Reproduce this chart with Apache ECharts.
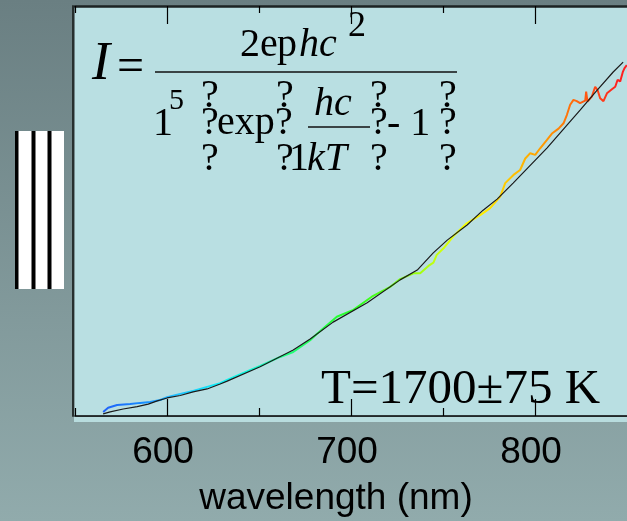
<!DOCTYPE html>
<html>
<head>
<meta charset="utf-8">
<script src="https://cdn.jsdelivr.net/npm/echarts@6/dist/echarts.min.js"></script>
<style>
  html, body { margin: 0; padding: 0; }
  #chart { width: 627px; height: 521px; }
</style>
</head>
<body>
<div id="chart"></div>
<script>
// Tick marks on the wavelength axis (nm)
const majorTicks = [600, 700, 800];
const minorTicks = [550, 650, 750];

// Blackbody fit (arbitrary intensity units)
const fitWavelength = [565.3, 569.1, 576.2, 583.8, 589.8, 594.7, 600.1, 607.2, 614.2, 621.8,
  628.9, 632.7, 650.6, 668.6, 677.8, 690.3, 708.8, 726.7, 736.0, 744.7,
  752.3, 763.1, 771.8, 779.4, 788.1, 806.6, 817.5, 824.5, 833.8, 842.5, 847.9];
const fitIntensity = [0.5, 1.0, 1.7, 2.3, 2.9, 3.7, 4.4, 5.0, 5.9, 6.6,
  7.8, 8.5, 12.0, 16.1, 18.8, 22.9, 27.6, 33.2, 35.6, 39.8,
  42.9, 46.6, 50.2, 52.9, 56.8, 65.4, 71.0, 74.6, 79.5, 83.9, 86.3];

// Measured emission spectrum
const measWavelength = [565.3, 568.0, 572.9, 580.0, 585.4, 590.8, 596.3, 600.1, 607.2, 614.2,
  621.8, 628.9, 632.7, 642.5, 650.6, 661.5, 668.6, 677.8, 681.4, 692.3,
  701.3, 711.3, 721.3, 726.7, 734.0, 737.6, 742.1, 744.8, 746.6, 750.3,
  755.7, 762.9, 770.2, 775.6, 781.1, 783.8, 788.3, 791.9, 794.7, 797.4,
  800.1, 802.8, 806.4, 809.2, 812.8, 815.5, 817.3, 819.1, 820.9, 822.7,
  824.5, 827.3, 827.8, 828.5, 830.9, 832.7, 834.0, 835.4, 837.2, 839.1,
  841.8, 843.6, 844.9, 846.3, 847.8, 848.6, 849.9];
const measIntensity = [1.0, 2.0, 2.7, 2.9, 3.2, 3.4, 3.9, 4.6, 5.4, 6.1,
  7.1, 8.0, 8.8, 10.7, 12.2, 14.4, 15.6, 18.5, 20.0, 24.2,
  25.9, 29.1, 31.5, 33.4, 34.8, 34.8, 36.6, 37.4, 39.3, 40.9,
  43.9, 47.0, 49.0, 50.7, 53.5, 56.8, 58.8, 60.0, 62.8, 64.1,
  63.7, 65.3, 67.3, 68.9, 70.1, 71.4, 73.4, 75.9, 77.1, 76.8,
  76.3, 76.9, 79.1, 76.7, 77.9, 80.3, 79.5, 77.5, 76.8, 78.7,
  79.7, 80.3, 82.0, 81.6, 84.0, 84.8, 85.6];

// Spectral colours, evenly spaced from 565 to 845 nm
const spectrumColors = ['#2060f8', '#1888ff', '#20c0ff', '#10e8f8', '#10f8d8', '#20ff80', '#20ff40',
  '#30ff20', '#70ff10', '#c0ff10', '#ffff00', '#ffc800', '#ff9800', '#ff6010', '#ff2020'];

const zip = (xs, ys) => xs.map((x, i) => [x, ys[i]]);

const serif = '"Liberation Serif", "Times New Roman", serif';
const sans = '"Liberation Sans", Arial, sans-serif';

function txt(text, x, y, size, italic) {
  return {
    type: 'text', x: x, y: y, z: 50,
    style: {
      text: text,
      font: (italic ? 'italic ' : '') + size + 'px ' + serif,
      fill: '#000',
      textAlign: 'left', align: 'left',
      textVerticalAlign: 'middle', verticalAlign: 'middle'
    }
  };
}

const chart = echarts.init(document.getElementById('chart'), null, { renderer: 'canvas' });

const baseX = { type: 'value', min: 550, max: 850, splitLine: { show: false } };

chart.setOption({
  animation: false,
  backgroundColor: {
    type: 'linear', x: 0, y: 0, x2: 0, y2: 1,
    colorStops: [{ offset: 0, color: '#6a7f82' }, { offset: 1, color: '#91abac' }]
  },
  grid: { left: 75, right: 0, top: 6, bottom: 105, show: true, backgroundColor: '#b9dfe2', borderWidth: 0 },
  xAxis: [
    Object.assign({}, baseX, {
      position: 'bottom',
      axisLine: { show: true, lineStyle: { color: '#000', width: 1.5 } },
      axisTick: { show: true, inside: true, length: 17, customValues: majorTicks, lineStyle: { color: '#000', width: 1.2 } },
      axisLabel: { show: true, customValues: majorTicks, margin: 18, fontSize: 37, fontFamily: sans, color: '#000', padding: [0, 8, 0, 0] }
    }),
    Object.assign({}, baseX, {
      position: 'bottom',
      axisLine: { show: false },
      axisTick: { show: true, inside: true, length: 8, customValues: minorTicks, lineStyle: { color: '#000', width: 1.2 } },
      axisLabel: { show: false }
    }),
    Object.assign({}, baseX, {
      position: 'top',
      axisLine: { show: true, lineStyle: { color: '#1c2323', width: 2.5 } },
      axisTick: { show: true, inside: true, length: 18, customValues: majorTicks, lineStyle: { color: '#000', width: 1.2 } },
      axisLabel: { show: false }
    }),
    Object.assign({}, baseX, {
      position: 'top',
      axisLine: { show: false },
      axisTick: { show: true, inside: true, length: 7, customValues: minorTicks, lineStyle: { color: '#000', width: 1.2 } },
      axisLabel: { show: false }
    })
  ],
  yAxis: {
    type: 'value', min: 0, max: 100, offset: 2,
    axisLine: { show: true, lineStyle: { color: '#27302f', width: 2 } },
    axisTick: { show: false }, axisLabel: { show: false }, splitLine: { show: false }
  },
  visualMap: {
    type: 'continuous', show: false, seriesIndex: 0, dimension: 0,
    min: 565, max: 845, inRange: { color: spectrumColors }
  },
  series: [
    {
      name: 'measured', type: 'line', xAxisIndex: 0, showSymbol: false, z: 3,
      lineStyle: { width: 2 },
      data: zip(measWavelength, measIntensity)
    },
    {
      name: 'fit', type: 'line', xAxisIndex: 0, showSymbol: false, z: 4,
      lineStyle: { width: 1.2, color: '#1a1a1a' },
      data: zip(fitWavelength, fitIntensity)
    }
  ],
  graphic: [
    // strip of plot background below the axis line
    { type: 'rect', shape: { x: 74, y: 417, width: 553, height: 5 }, style: { fill: '#b8dcde' } },
    // striped slit icon
    { type: 'rect', shape: { x: 15, y: 131, width: 49, height: 158 }, style: { fill: '#ffffff' } },
    { type: 'rect', shape: { x: 15, y: 131, width: 3.5, height: 158 }, style: { fill: '#000' } },
    { type: 'rect', shape: { x: 31.5, y: 131, width: 4, height: 158 }, style: { fill: '#000' } },
    { type: 'rect', shape: { x: 47.5, y: 131, width: 4, height: 158 }, style: { fill: '#000' } },
    // Planck radiation formula
    txt('I', 92, 65, 54, true),
    txt('=', 117, 68, 48, false),
    txt('2e', 240, 45, 40, false),
    txt('p', 277, 45, 40, false),
    txt('hc', 299, 45, 40, true),
    txt('2', 348, 27, 36, false),
    { type: 'line', z: 50, shape: { x1: 155, y1: 72, x2: 457, y2: 72 }, style: { stroke: '#111', lineWidth: 1.5 } },
    txt('1', 153, 124, 40, false),
    txt('5', 169, 101, 30, false),
    txt('?', 201, 96, 40, false), txt('?', 201, 123, 40, false), txt('?', 201, 159, 40, false),
    txt('exp', 217, 123, 40, false),
    txt('?', 276, 96, 40, false), txt('?', 275, 123, 40, false), txt('?', 276, 159, 40, false),
    txt('hc', 314, 104, 40, true),
    { type: 'line', z: 50, shape: { x1: 308, y1: 127, x2: 370, y2: 127 }, style: { stroke: '#111', lineWidth: 1.5 } },
    txt('1', 289, 159, 40, false),
    txt('kT', 307, 159, 40, true),
    txt('?', 370, 96, 40, false), txt('?', 370, 123, 40, false), txt('?', 370, 159, 40, false),
    txt('- 1', 387, 124, 40, false),
    txt('?', 439, 96, 40, false), txt('?', 439, 123, 40, false), txt('?', 439, 159, 40, false),
    // temperature result
    txt('T=1700\u00b175 K', 321, 390, 49, false),
    // axis title
    {
      type: 'text', x: 336, y: 499, z: 50,
      style: {
        text: 'wavelength (nm)', font: '37px ' + sans, fill: '#000',
        textAlign: 'center', align: 'center', textVerticalAlign: 'middle', verticalAlign: 'middle'
      }
    }
  ]
});
</script>
</body>
</html>
